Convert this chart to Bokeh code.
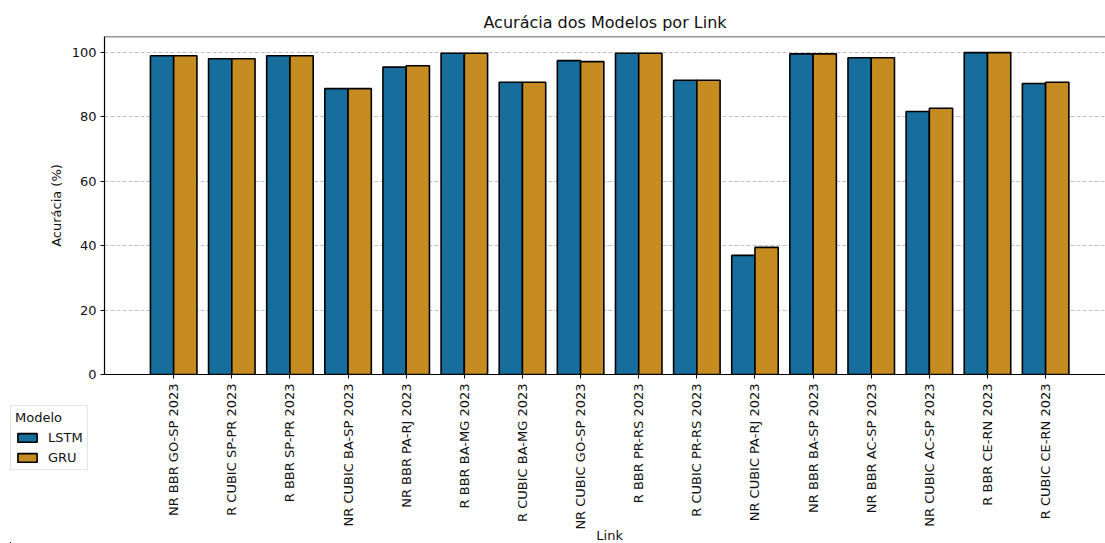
from bokeh.plotting import figure
from bokeh.models import (ColumnDataSource, FixedTicker, Span, Legend, LegendItem, Label,
                          Range1d, InlineStyleSheet)
from bokeh.transform import dodge
from bokeh.embed import file_html
from bokeh.resources import INLINE
import math

links = ["NR BBR GO-SP 2023", "R CUBIC SP-PR 2023", "R BBR SP-PR 2023", "NR CUBIC BA-SP 2023",
         "NR BBR PA-RJ 2023", "R BBR BA-MG 2023", "R CUBIC BA-MG 2023", "NR CUBIC GO-SP 2023",
         "R BBR PR-RS 2023", "R CUBIC PR-RS 2023", "NR CUBIC PA-RJ 2023", "NR BBR BA-SP 2023",
         "NR BBR AC-SP 2023", "NR CUBIC AC-SP 2023", "R BBR CE-RN 2023", "R CUBIC CE-RN 2023"]
lstm = [99.0, 98.1, 99.0, 88.8, 95.5, 99.8, 90.8, 97.5, 99.8, 91.4, 37.0, 99.6, 98.4, 81.7, 100.0, 90.4]
gru = [99.0, 98.1, 99.0, 88.8, 95.9, 99.8, 90.8, 97.2, 99.8, 91.4, 39.5, 99.6, 98.4, 82.7, 100.0, 90.8]
y_ticks = [0, 20, 40, 60, 80, 100]
series = ["LSTM", "GRU"]
colors = ["#176D9C", "#C68C22"]

idx = list(range(len(links)))
src = ColumnDataSource(dict(x=idx, lstm=lstm, gru=gru))

FONT = "DejaVu Sans"
TXT = "#111111"
W, H = 1105, 543
LEFT, TOP, BOTTOM = 104, 36, 169
X0, X1 = -1.19, 16.03

p = figure(width=W, height=H, output_backend="svg", toolbar_location=None,
           x_range=(X0, X1), y_range=(0, 105),
           min_border_left=LEFT, min_border_right=0, min_border_top=TOP, min_border_bottom=BOTTOM)

p.title.text = "Acurácia dos Modelos por Link"
p.title.align = "center"
p.title.text_font = FONT
p.title.text_font_size = "16px"
p.title.text_font_style = "normal"
p.title.text_color = TXT
p.title.offset = 4

r1 = p.vbar(x=dodge("x", -0.2), top="lstm", width=0.4, source=src,
            fill_color=colors[0], line_color="black", line_width=1.6)
r2 = p.vbar(x=dodge("x", 0.2), top="gru", width=0.4, source=src,
            fill_color=colors[1], line_color="black", line_width=1.6)

p.outline_line_color = None
p.add_layout(Span(location=105, dimension="width", line_color="#333333", line_width=1.6))

p.xgrid.visible = False
p.ygrid.grid_line_dash = "4 2"
p.ygrid.grid_line_color = "#bbbbbb"
p.ygrid.grid_line_alpha = 0.9
p.ygrid.ticker = FixedTicker(ticks=y_ticks)

p.xaxis.ticker = FixedTicker(ticks=idx)
p.xaxis.major_label_overrides = {i: l for i, l in enumerate(links)}
p.xaxis.major_label_orientation = math.pi / 2
p.yaxis.ticker = FixedTicker(ticks=y_ticks)
for ax in (p.xaxis, p.yaxis):
    ax.major_label_text_font = FONT
    ax.major_label_text_font_size = "13px"
    ax.major_label_text_color = TXT
    ax.axis_label_text_font = FONT
    ax.axis_label_text_font_size = "13px"
    ax.axis_label_text_font_style = "normal"
    ax.axis_label_text_color = TXT
    ax.minor_tick_line_color = None
    ax.major_tick_in = 0
    ax.major_tick_out = 4
    ax.axis_line_color = "black"
    ax.axis_line_width = 1.2
p.yaxis.axis_label = "Acurácia (%)"
p.xaxis.major_label_standoff = 5
p.yaxis.major_label_standoff = 4
p.yaxis.axis_label_standoff = 5

# small transparent figure laid over the lower-left area: legend + x-axis title
OV_TOP, OV_LEFT = 405, 10
fw, fh = W - OV_LEFT, H - OV_TOP
css = InlineStyleSheet(css=":host { position: absolute !important; left: %dpx !important; "
                           "top: %dpx !important; }" % (OV_LEFT, OV_TOP))
ov = figure(width=fw, height=fh, output_backend="svg", toolbar_location=None,
            x_axis_location=None, y_axis_location=None,
            x_range=Range1d(0, fw), y_range=Range1d(0, fh),
            min_border=0, stylesheets=[css])
ov.grid.visible = False
ov.outline_line_color = None
ov.background_fill_color = None
ov.border_fill_color = None
# legend proxies: same bars, drawn on ranges that keep them fully out of view
ov.extra_x_ranges = {"hidden": Range1d(1000, 2000)}
ov.extra_y_ranges = {"hidden": Range1d(1000, 2000)}
d1 = ov.vbar(x="x", top="lstm", width=0.4, source=src, x_range_name="hidden", y_range_name="hidden",
             fill_color=colors[0], line_color="black", line_width=1.6)
d2 = ov.vbar(x="x", top="gru", width=0.4, source=src, x_range_name="hidden", y_range_name="hidden",
             fill_color=colors[1], line_color="black", line_width=1.6)

legend = Legend(items=[LegendItem(label=series[0], renderers=[d1], index=0),
                       LegendItem(label=series[1], renderers=[d2], index=0)],
                location="top_left", title="Modelo")
legend.title_text_font = FONT
legend.title_text_font_size = "13px"
legend.title_text_font_style = "normal"
legend.title_text_color = TXT
legend.title_standoff = 5
legend.label_text_font = FONT
legend.label_text_font_size = "13px"
legend.label_text_color = TXT
legend.label_height = 15
legend.glyph_width = 24
legend.glyph_height = 11
legend.label_standoff = 9
legend.spacing = 5
legend.padding = 4
legend.margin = 0
legend.border_line_color = "#cccccc"
legend.background_fill_alpha = 0.8
ov.add_layout(legend, "center")

# centre of the main plot's x-range, in overlay frame pixels
link_x = LEFT + (W - LEFT) * ((len(links) - 1) / 2 - X0) / (X1 - X0) - OV_LEFT
ov.add_layout(Label(x=link_x, y=1, text="Link", text_font=FONT, text_font_size="13px",
                    text_color=TXT, text_align="center", text_baseline="bottom"))

open("out.html", "w").write(file_html([p, ov], INLINE))
